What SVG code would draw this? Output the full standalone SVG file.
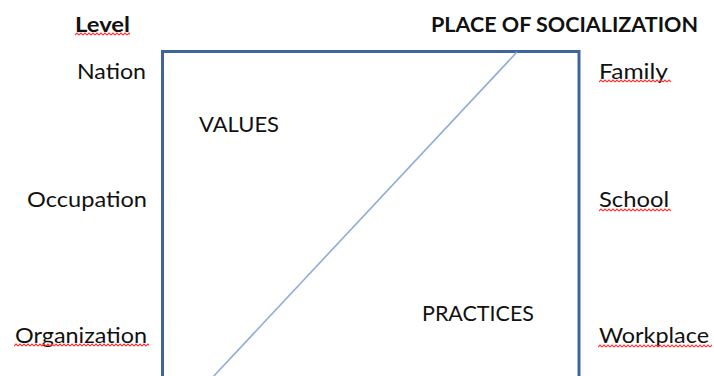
<svg xmlns="http://www.w3.org/2000/svg" width="714" height="376" viewBox="0 0 714 376">
  <style>
    .t { font-family: Lato, "Open Sans", "Liberation Sans", sans-serif; font-size: 21.5px; fill: #111; }
    .b { font-weight: bold; font-size: 20.5px; }
    .frame { fill: none; stroke: #40659a; stroke-width: 3; }
    .diag { stroke: #8fadd8; stroke-width: 1.6; fill: none; }
  </style>
  <defs>
    <pattern id="sq" patternUnits="userSpaceOnUse" width="4" height="4">
      <path d="M0,3 L2,1 L4,3" fill="none" stroke="#ff3030" stroke-width="1.1"/>
    </pattern>
  </defs>
  <rect width="714" height="376" fill="#fff"/>

  <g id="frame">
    <rect class="frame" x="162.5" y="51.5" width="416.5" height="400"/>
  </g>

  <g id="connectors">
    <line class="diag" x1="517" y1="52" x2="212" y2="378"/>
  </g>

  <g id="level">
    <text class="t b" x="75" y="32" textLength="55" lengthAdjust="spacingAndGlyphs">Level</text>
    <g transform="translate(75,32)"><rect x="0" y="0" width="55" height="4" fill="url(#sq)"/></g>
  </g>
  <g id="place">
    <text class="t b" x="431" y="32" textLength="267" lengthAdjust="spacingAndGlyphs">PLACE OF SOCIALIZATION</text>
  </g>

  <g id="nation">
    <text class="t" x="77" y="79" textLength="69" lengthAdjust="spacingAndGlyphs">Nation</text>
  </g>
  <g id="occupation">
    <text class="t" x="27" y="207" textLength="120" lengthAdjust="spacingAndGlyphs">Occupation</text>
  </g>
  <g id="organization">
    <text class="t" x="15" y="343" textLength="132" lengthAdjust="spacingAndGlyphs">Organization</text>
    <g transform="translate(14,343)"><rect x="0" y="0" width="135" height="4" fill="url(#sq)"/></g>
  </g>

  <g id="family">
    <text class="t" x="599" y="79" textLength="69" lengthAdjust="spacingAndGlyphs">Family</text>
    <g transform="translate(599,79)"><rect x="0" y="0" width="72" height="4" fill="url(#sq)"/></g>
  </g>
  <g id="school">
    <text class="t" x="599" y="207" textLength="70" lengthAdjust="spacingAndGlyphs">School</text>
    <g transform="translate(599,208)"><rect x="0" y="0" width="72" height="4" fill="url(#sq)"/></g>
  </g>
  <g id="workplace">
    <text class="t" x="599" y="343" textLength="110" lengthAdjust="spacingAndGlyphs">Workplace</text>
    <g transform="translate(598,344)"><rect x="0" y="0" width="114" height="4" fill="url(#sq)"/></g>
  </g>

  <g id="values">
    <text class="t" x="199" y="132" textLength="80" lengthAdjust="spacingAndGlyphs">VALUES</text>
  </g>
  <g id="practices">
    <text class="t" x="422" y="321" textLength="112" lengthAdjust="spacingAndGlyphs">PRACTICES</text>
  </g>
</svg>
